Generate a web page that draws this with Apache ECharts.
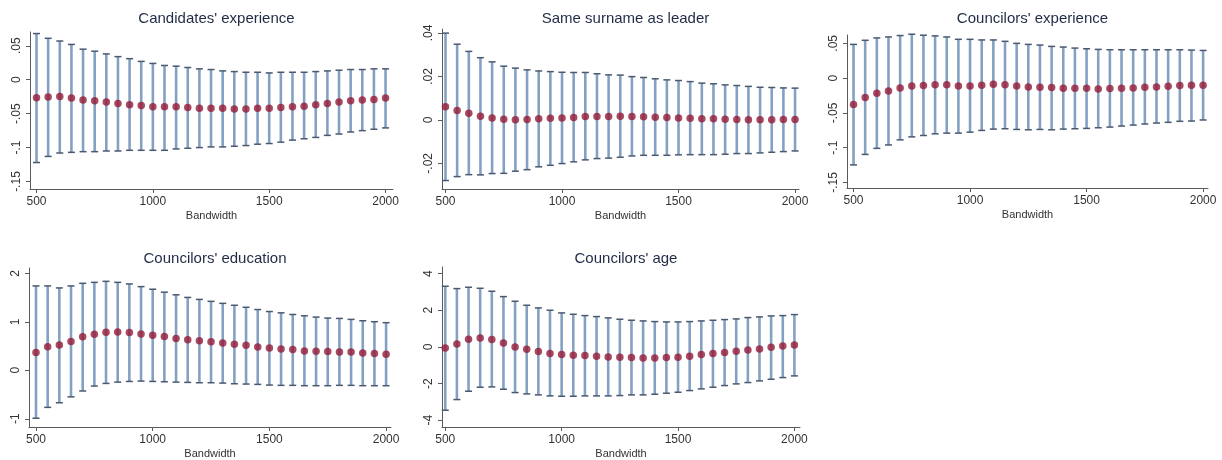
<!DOCTYPE html>
<html>
<head>
<meta charset="utf-8">
<script src="https://cdn.jsdelivr.net/npm/echarts@6/dist/echarts.min.js"></script>
<style>
html,body{margin:0;padding:0;background:#fff;}
#chart{width:1222px;height:460px;}
</style>
</head>
<body>
<div id="chart"></div>
<script>
// ---------- DATA ----------
const bandwidth = [500,550,600,650,700,750,800,850,900,950,1000,1050,1100,1150,1200,1250,1300,1350,1400,1450,1500,1550,1600,1650,1700,1750,1800,1850,1900,1950,2000];

const titles = ["Candidates' experience","Same surname as leader","Councilors' experience","Councilors' education","Councilors' age"];
const xTicks = [500,1000,1500,2000];
const xLabel = "Bandwidth";

// Panel 1: Candidates' experience
const candExpMean = [-0.0266,-0.0256,-0.0246,-0.0271,-0.030,-0.031,-0.033,-0.035,-0.037,-0.038,-0.040,-0.040,-0.040,-0.041,-0.042,-0.042,-0.042,-0.043,-0.043,-0.042,-0.042,-0.041,-0.040,-0.039,-0.037,-0.035,-0.033,-0.031,-0.030,-0.029,-0.027];
const candExpHi   = [0.068,0.061,0.057,0.052,0.045,0.042,0.038,0.034,0.031,0.027,0.024,0.021,0.020,0.018,0.016,0.015,0.013,0.012,0.011,0.011,0.010,0.011,0.011,0.011,0.012,0.013,0.014,0.015,0.015,0.016,0.016];
const candExpLo   = [-0.122,-0.113,-0.108,-0.107,-0.106,-0.106,-0.105,-0.105,-0.104,-0.104,-0.104,-0.104,-0.102,-0.101,-0.100,-0.099,-0.099,-0.098,-0.097,-0.095,-0.094,-0.092,-0.089,-0.087,-0.085,-0.082,-0.080,-0.077,-0.075,-0.073,-0.071];
const candExpTicks = [-0.15,-0.1,-0.05,0,0.05];

// Panel 2: Same surname as leader
const surnameMean = [0.0060,0.0043,0.0031,0.0017,0.0009,0.0003,0.0000,0.0002,0.0005,0.0008,0.0009,0.0011,0.0015,0.0015,0.0015,0.0017,0.0015,0.0014,0.0012,0.0011,0.0009,0.0008,0.0005,0.0005,0.0003,0.0002,0.0000,0.0000,0.0000,0.0002,0.0002];
const surnameHi   = [0.0399,0.0348,0.0315,0.0286,0.0267,0.0247,0.0238,0.0230,0.0225,0.0222,0.0219,0.0218,0.0218,0.0212,0.0207,0.0206,0.0199,0.0195,0.0189,0.0184,0.0181,0.0176,0.0169,0.0166,0.0161,0.0158,0.0154,0.0150,0.0149,0.0147,0.0146];
const surnameLo   = [-0.0279,-0.0261,-0.0252,-0.0253,-0.0247,-0.0246,-0.0236,-0.0229,-0.0216,-0.0209,-0.0201,-0.0193,-0.0184,-0.0178,-0.0176,-0.0172,-0.0166,-0.0163,-0.0163,-0.0163,-0.0161,-0.0160,-0.0160,-0.0160,-0.0158,-0.0155,-0.0155,-0.0152,-0.0149,-0.0146,-0.0143];
const surnameTicks = [-0.02,0,0.02,0.04];

// Panel 3: Councilors' experience
const counExpMean = [-0.0379,-0.0277,-0.0218,-0.0184,-0.0141,-0.0112,-0.0107,-0.0097,-0.0097,-0.0112,-0.0112,-0.0102,-0.0087,-0.0097,-0.0112,-0.0126,-0.0131,-0.0136,-0.0146,-0.0146,-0.0146,-0.0155,-0.0150,-0.0146,-0.0141,-0.0131,-0.0126,-0.0117,-0.0107,-0.0102,-0.0102];
const counExpHi   = [0.0485,0.0544,0.0578,0.0592,0.0612,0.0631,0.0617,0.0607,0.0592,0.0558,0.0558,0.0549,0.0549,0.0529,0.0500,0.0485,0.0476,0.0456,0.0447,0.0432,0.0422,0.0413,0.0408,0.0408,0.0408,0.0408,0.0408,0.0408,0.0408,0.0403,0.0398];
const counExpLo   = [-0.1248,-0.1097,-0.1010,-0.0961,-0.0888,-0.0845,-0.0825,-0.0801,-0.0791,-0.0791,-0.0777,-0.0752,-0.0733,-0.0728,-0.0738,-0.0743,-0.0738,-0.0743,-0.0733,-0.0728,-0.0723,-0.0714,-0.0704,-0.0689,-0.0675,-0.0660,-0.0646,-0.0636,-0.0621,-0.0617,-0.0602];
const counExpTicks = [-0.15,-0.1,-0.05,0,0.05];

// Panel 4: Councilors' education
const eduMean = [0.366,0.487,0.521,0.596,0.690,0.745,0.785,0.792,0.779,0.751,0.724,0.697,0.657,0.630,0.609,0.589,0.562,0.535,0.515,0.481,0.460,0.440,0.427,0.399,0.393,0.386,0.379,0.379,0.359,0.345,0.332];
const eduHi   = [1.740,1.740,1.699,1.740,1.794,1.814,1.835,1.814,1.781,1.726,1.672,1.611,1.557,1.503,1.462,1.422,1.381,1.341,1.300,1.253,1.212,1.185,1.151,1.124,1.097,1.077,1.070,1.050,1.022,1.002,0.982];
const eduLo   = [-0.989,-0.765,-0.670,-0.548,-0.427,-0.325,-0.271,-0.244,-0.230,-0.223,-0.230,-0.237,-0.244,-0.250,-0.257,-0.257,-0.264,-0.278,-0.284,-0.291,-0.305,-0.311,-0.311,-0.318,-0.318,-0.318,-0.311,-0.311,-0.318,-0.318,-0.318];
const eduTicks = [-1,0,1,2];

// Panel 5: Councilors' age
const ageMean = [-0.055,0.164,0.418,0.491,0.400,0.218,0.000,-0.127,-0.255,-0.364,-0.418,-0.455,-0.473,-0.509,-0.545,-0.564,-0.582,-0.600,-0.600,-0.582,-0.564,-0.509,-0.418,-0.364,-0.309,-0.236,-0.164,-0.109,-0.018,0.055,0.109];
const ageHi   = [3.309,3.182,3.255,3.200,3.036,2.745,2.491,2.273,2.127,2.000,1.855,1.782,1.709,1.655,1.582,1.509,1.455,1.418,1.382,1.364,1.364,1.382,1.418,1.455,1.491,1.527,1.600,1.636,1.691,1.709,1.764];
const ageLo   = [-3.455,-2.873,-2.418,-2.200,-2.182,-2.309,-2.491,-2.564,-2.618,-2.673,-2.691,-2.691,-2.673,-2.673,-2.673,-2.655,-2.618,-2.618,-2.582,-2.527,-2.473,-2.382,-2.291,-2.200,-2.109,-2.018,-1.945,-1.855,-1.764,-1.673,-1.582];
const ageTicks = [-4,-2,0,2,4];

// ---------- LAYOUT ----------
const panels = [
  {mean:candExpMean, hi:candExpHi, lo:candExpLo, ticks:candExpTicks,
   grid:{left:30,top:32,width:363,height:157}, xMin:472, xMax:2032, yMin:-0.161, yMax:0.0703, titleTop:6},
  {mean:surnameMean, hi:surnameHi, lo:surnameLo, ticks:surnameTicks,
   grid:{left:442,top:29,width:357,height:160}, xMin:485, xMax:2017, yMin:-0.0318, yMax:0.0418, titleTop:6},
  {mean:counExpMean, hi:counExpHi, lo:counExpLo, ticks:counExpTicks,
   grid:{left:847,top:35,width:361,height:153}, xMin:472, xMax:2021, yMin:-0.158, yMax:0.062, titleTop:6},
  {mean:eduMean, hi:eduHi, lo:eduLo, ticks:eduTicks,
   grid:{left:29,top:268,width:362,height:160}, xMin:470, xMax:2021, yMin:-1.17, yMax:2.11, titleTop:246},
  {mean:ageMean, hi:ageHi, lo:ageLo, ticks:ageTicks,
   grid:{left:442,top:267,width:358,height:160}, xMin:486, xMax:2024, yMin:-4.37, yMax:4.36, titleTop:246}
];

function stataFmt(v){
  if (v === 0) return '0';
  let s = String(Math.round(v*10000)/10000);
  s = s.replace(/^0\./,'.').replace(/^-0\./,'-.');
  return s;
}

const FONT = "'Liberation Sans', Arial, Helvetica, sans-serif";
const axisColor = '#5a5a5a';

const option = {
  backgroundColor:'#ffffff',
  animation:false,
  title:[], grid:[], xAxis:[], yAxis:[], series:[]
};

panels.forEach((p,i)=>{
  option.grid.push(Object.assign({containLabel:false}, p.grid));
  option.title.push({
    text: titles[i],
    left: p.grid.left + p.grid.width/2,
    top: p.titleTop,
    textAlign:'center',
    textStyle:{fontFamily:FONT,fontSize:15,fontWeight:'normal',color:'#1f2b45'}
  });
  option.xAxis.push({
    type:'value', gridIndex:i, min:p.xMin, max:p.xMax,
    name:xLabel, nameLocation:'middle', nameGap:21,
    nameTextStyle:{fontFamily:FONT,fontSize:11,color:'#333'},
    axisLine:{show:true,onZero:false,lineStyle:{color:axisColor,width:1}},
    axisTick:{show:true,customValues:xTicks,length:4,lineStyle:{color:axisColor}},
    axisLabel:{customValues:xTicks,margin:7,fontFamily:FONT,fontSize:12,color:'#333',
               formatter:v=>String(v)},
    splitLine:{show:false}
  });
  option.yAxis.push({
    type:'value', gridIndex:i, min:p.yMin, max:p.yMax,
    axisLine:{show:true,onZero:false,lineStyle:{color:axisColor,width:1}},
    axisTick:{show:true,customValues:p.ticks,length:4,lineStyle:{color:axisColor}},
    axisLabel:{customValues:p.ticks,rotate:90,margin:7,fontFamily:FONT,fontSize:12,color:'#333',
               formatter:stataFmt},
    splitLine:{show:false}
  });
  const barData = bandwidth.map((b,k)=>[b,p.lo[k],p.hi[k]]);
  option.series.push({
    type:'custom', xAxisIndex:i, yAxisIndex:i,
    data:barData,
    encode:{x:0,y:[1,2]},
    renderItem:function(params,api){
      const x = api.value(0);
      const lo = api.coord([x, api.value(1)]);
      const hi = api.coord([x, api.value(2)]);
      const hw = 3.5;
      return {type:'group',children:[
        {type:'line',shape:{x1:lo[0],y1:lo[1],x2:hi[0],y2:hi[1]},
         style:{stroke:'#84a1c2',lineWidth:2.6}},
        {type:'line',shape:{x1:hi[0]-hw,y1:hi[1],x2:hi[0]+hw,y2:hi[1]},
         style:{stroke:'#4a5870',lineWidth:1.5}},
        {type:'line',shape:{x1:lo[0]-hw,y1:lo[1],x2:lo[0]+hw,y2:lo[1]},
         style:{stroke:'#4a5870',lineWidth:1.5}}
      ]};
    },
    z:2
  });
  option.series.push({
    type:'scatter', xAxisIndex:i, yAxisIndex:i,
    data: bandwidth.map((b,k)=>[b,p.mean[k]]),
    symbol:'circle', symbolSize:7.5,
    itemStyle:{color:'#951a38'},
    z:3
  });
});

const chart = echarts.init(document.getElementById('chart'), null, {renderer:'canvas'});
chart.setOption(option);
</script>
</body>
</html>
